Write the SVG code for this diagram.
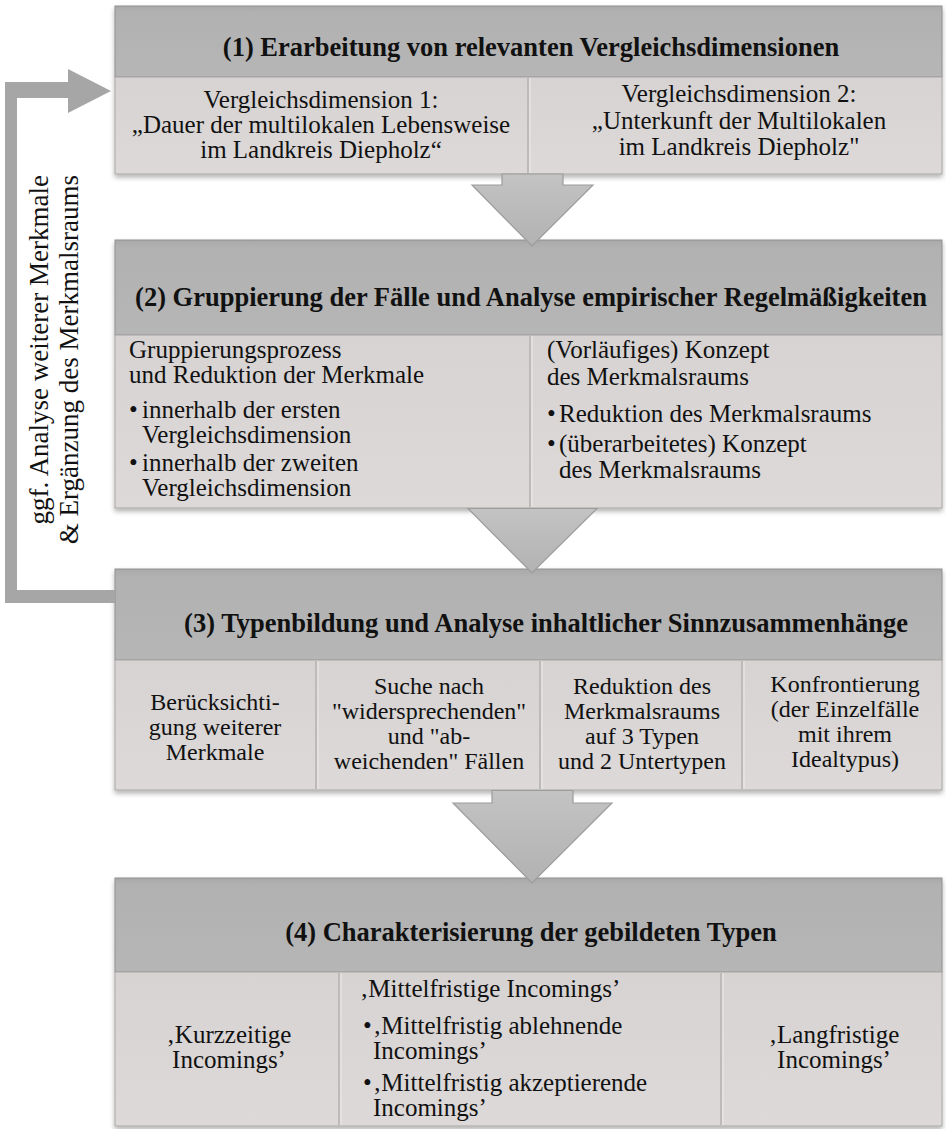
<svg xmlns="http://www.w3.org/2000/svg" width="946" height="1129" viewBox="0 0 946 1129">
<style>
.hd{fill:url(#gHd);stroke:#8f8f8f;stroke-width:1}
.sb{fill:url(#gSb);stroke:#a9a6a5;stroke-width:1}
.sep{stroke:#bdbab9;stroke-width:2}
.sepl{stroke:#ecebea;stroke-width:1}
.tt{font-family:"Liberation Serif","Times New Roman",serif;font-weight:bold;font-size:26.5px;fill:#111;text-anchor:middle}
.t{font-family:"Liberation Serif","Times New Roman",serif;font-size:25px;fill:#111}
.t24{font-family:"Liberation Serif","Times New Roman",serif;font-size:24px;fill:#111}
.c{text-anchor:middle}
.arr{fill:url(#gArr);stroke:#9c9c9c;stroke-width:1.2;stroke-linejoin:miter}
.fb{fill:#a6a6a6}
.fbt{font-family:"Liberation Serif","Times New Roman",serif;font-size:27px;fill:#111;text-anchor:end}
</style>
<defs>
<linearGradient id="gHd" x1="0" y1="0" x2="0" y2="1">
<stop offset="0" stop-color="#a9a9a9"/>
<stop offset="0.08" stop-color="#b1b1b1"/>
<stop offset="1" stop-color="#b6b6b6"/>
</linearGradient>
<linearGradient id="gSb" x1="0" y1="0" x2="0" y2="1">
<stop offset="0" stop-color="#d6d3d2"/>
<stop offset="1" stop-color="#dcd9d8"/>
</linearGradient>
<linearGradient id="gArr" x1="0" y1="0" x2="0" y2="1">
<stop offset="0" stop-color="#c3c3c3"/>
<stop offset="1" stop-color="#b2b2b2"/>
</linearGradient>
<filter id="sh" x="-5%" y="-5%" width="110%" height="115%">
<feDropShadow dx="0" dy="3" stdDeviation="2.5" flood-color="#000" flood-opacity="0.3"/>
</filter>
</defs>
<rect width="946" height="1129" fill="#fff"/>

<g id="step1">
<g filter="url(#sh)">
<rect class="hd" x="115" y="6" width="827" height="71"/>
<rect class="sb" x="115" y="77" width="827" height="97"/>
</g>
<line class="sep" x1="528" y1="78" x2="528" y2="173"/>
<line class="sepl" x1="530" y1="78" x2="530" y2="173"/>
<text class="tt" x="531" y="56">(1) Erarbeitung von relevanten Vergleichsdimensionen</text>
<text class="t c"><tspan x="321" y="108">Vergleichsdimension 1:</tspan><tspan x="321" y="133">„Dauer der multilokalen Lebensweise</tspan><tspan x="321" y="158">im Landkreis Diepholz“</tspan></text>
<text class="t c"><tspan x="739" y="102">Vergleichsdimension 2:</tspan><tspan x="739" y="129">„Unterkunft der Multilokalen</tspan><tspan x="739" y="155">im Landkreis Diepholz"</tspan></text>
</g>

<g id="step2">
<g filter="url(#sh)">
<rect class="hd" x="115" y="240" width="827" height="95"/>
<rect class="sb" x="115" y="335" width="827" height="173"/>
</g>
<line class="sep" x1="530" y1="336" x2="530" y2="507"/>
<line class="sepl" x1="532" y1="336" x2="532" y2="507"/>
<text class="tt" x="531" y="306">(2) Gruppierung der Fälle und Analyse empirischer Regelmäßigkeiten</text>
<text class="t"><tspan x="129" y="358">Gruppierungsprozess</tspan><tspan x="129" y="383">und Reduktion der Merkmale</tspan><tspan x="129" y="418">•</tspan><tspan x="142" y="418">innerhalb der ersten</tspan><tspan x="142" y="443">Vergleichsdimension</tspan><tspan x="129" y="471">•</tspan><tspan x="142" y="471">innerhalb der zweiten</tspan><tspan x="142" y="496">Vergleichsdimension</tspan></text>
<text class="t"><tspan x="547" y="358">(Vorläufiges) Konzept</tspan><tspan x="547" y="385">des Merkmalsraums</tspan><tspan x="547" y="422">•</tspan><tspan x="559" y="422">Reduktion des Merkmalsraums</tspan><tspan x="547" y="452">•</tspan><tspan x="559" y="452">(überarbeitetes) Konzept</tspan><tspan x="559" y="478">des Merkmalsraums</tspan></text>
</g>

<g id="step3">
<g filter="url(#sh)">
<rect class="hd" x="115" y="569" width="827" height="91"/>
<rect class="sb" x="115" y="660" width="827" height="130"/>
</g>
<line class="sep" x1="316" y1="661" x2="316" y2="789"/>
<line class="sepl" x1="318" y1="661" x2="318" y2="789"/>
<line class="sep" x1="540" y1="661" x2="540" y2="789"/>
<line class="sepl" x1="542" y1="661" x2="542" y2="789"/>
<line class="sep" x1="742" y1="661" x2="742" y2="789"/>
<line class="sepl" x1="744" y1="661" x2="744" y2="789"/>
<text class="tt" x="546" y="632">(3) Typenbildung und Analyse inhaltlicher Sinnzusammenhänge</text>
<text class="t24 c"><tspan x="215" y="710">Berücksichti-</tspan><tspan x="215" y="735">gung weiterer</tspan><tspan x="215" y="760">Merkmale</tspan></text>
<text class="t24 c"><tspan x="429" y="694">Suche nach</tspan><tspan x="429" y="719">"widersprechenden"</tspan><tspan x="429" y="744">und "ab-</tspan><tspan x="429" y="769">weichenden" Fällen</tspan></text>
<text class="t24 c"><tspan x="642" y="694">Reduktion des</tspan><tspan x="642" y="719">Merkmalsraums</tspan><tspan x="642" y="744">auf 3 Typen</tspan><tspan x="642" y="769">und 2 Untertypen</tspan></text>
<text class="t24 c"><tspan x="845" y="692">Konfrontierung</tspan><tspan x="845" y="717">(der Einzelfälle</tspan><tspan x="845" y="742">mit ihrem</tspan><tspan x="845" y="767">Idealtypus)</tspan></text>
</g>

<g id="step4">
<g filter="url(#sh)">
<rect class="hd" x="115" y="878" width="827" height="94"/>
<rect class="sb" x="115" y="972" width="827" height="154"/>
</g>
<line class="sep" x1="339" y1="973" x2="339" y2="1125"/>
<line class="sepl" x1="341" y1="973" x2="341" y2="1125"/>
<line class="sep" x1="721" y1="973" x2="721" y2="1125"/>
<line class="sepl" x1="723" y1="973" x2="723" y2="1125"/>
<text class="tt" x="531" y="941">(4) Charakterisierung der gebildeten Typen</text>
<text class="t c"><tspan x="229" y="1043">‚Kurzzeitige</tspan><tspan x="229" y="1068">Incomings’</tspan></text>
<text class="t"><tspan x="360" y="997">‚Mittelfristige Incomings’</tspan><tspan x="363" y="1034">•</tspan><tspan x="373" y="1034">‚Mittelfristig ablehnende</tspan><tspan x="373" y="1059">Incomings’</tspan><tspan x="363" y="1091">•</tspan><tspan x="373" y="1091">‚Mittelfristig akzeptierende</tspan><tspan x="373" y="1116">Incomings’</tspan></text>
<text class="t c"><tspan x="834" y="1043">‚Langfristige</tspan><tspan x="834" y="1068">Incomings’</tspan></text>
</g>

<g id="connectors">
<polygon class="arr" points="502,174 563,174 563,185 593,185 532,246 472,185 502,185"/>
<polygon class="arr" points="468,508.5 597,508.5 532,573"/>
<polygon class="arr" points="492,790.5 573,790.5 573,803 612,803 532,883 453,803 492,803"/>
<path class="fb" d="M111 91 L68 69 L68 82 L5 82 L5 603 L115 603 L115 590 L17 590 L17 98 L68 98 L68 113 Z"/>
<g id="feedback-label">
<text class="fbt" transform="translate(48,175) rotate(-90)">ggf. Analyse weiterer Merkmale</text>
<text class="fbt" transform="translate(78,175) rotate(-90)">&amp; Ergänzung des Merkmalsraums</text>
</g>
</g>
</svg>
